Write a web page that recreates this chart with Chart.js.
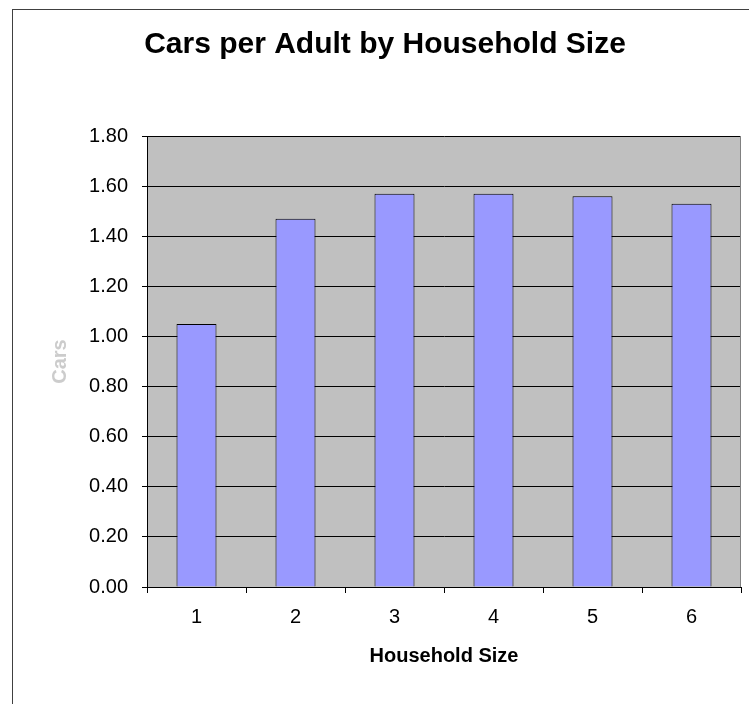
<!DOCTYPE html>
<html>
<head>
<meta charset="utf-8">
<script src="https://cdn.jsdelivr.net/npm/chart.js@4.4.1/dist/chart.umd.min.js"></script>
<style>
  html, body { margin: 0; padding: 0; background: #ffffff; }
  #wrap { width: 749px; height: 704px; position: relative; }
</style>
</head>
<body>
<div id="wrap"><canvas id="c" width="749" height="704"></canvas></div>
<script>
const chartTitle = 'Cars per Adult by Household Size';
const xAxisTitle = 'Household Size';
const yAxisTitle = 'Cars';
const categories = ['1', '2', '3', '4', '5', '6'];
const carsPerAdult = [1.05, 1.47, 1.57, 1.57, 1.56, 1.53];
const yTickLabels = ['0.00', '0.20', '0.40', '0.60', '0.80', '1.00', '1.20', '1.40', '1.60', '1.80'];

const FONT = '"Liberation Sans", Arial, Helvetica, sans-serif';

const decor = {
  id: 'decor',
  beforeDraw(chart) {
    const { ctx, chartArea: a } = chart;
    ctx.save();
    ctx.fillStyle = '#c0c0c0';
    ctx.fillRect(a.left, a.top, a.right - a.left, a.bottom - a.top);
    ctx.restore();
  },
  afterDraw(chart) {
    const { ctx, chartArea: a } = chart;
    ctx.save();
    ctx.strokeStyle = '#808080';
    ctx.lineWidth = 1;
    ctx.beginPath();
    ctx.moveTo(Math.round(a.right) - 0.5, a.top);
    ctx.lineTo(Math.round(a.right) - 0.5, a.bottom);
    ctx.stroke();
    ctx.strokeStyle = '#404040';
    ctx.strokeRect(12.5, 9.5, 900, 900);
    ctx.restore();
  }
};

new Chart(document.getElementById('c'), {
  type: 'bar',
  data: {
    labels: categories,
    datasets: [{
      data: carsPerAdult,
      backgroundColor: '#9999ff',
      borderColor: '#000000',
      borderWidth: 1,
      borderSkipped: 'start',
      barPercentage: 0.404,
      categoryPercentage: 1.0
    }]
  },
  options: {
    responsive: false,
    animation: false,
    devicePixelRatio: 1,
    layout: { padding: { left: 29, right: 8, top: 0, bottom: 0 } },
    plugins: {
      legend: { display: false },
      tooltip: { enabled: false },
      title: {
        display: true,
        text: chartTitle,
        color: '#000000',
        font: { family: FONT, size: 30, weight: 'bold', lineHeight: 1.2 },
        padding: { top: 27, bottom: 73 }
      }
    },
    scales: {
      x: {
        afterFit(scale) { scale.height = 117; },
        border: { display: true, color: '#000000', width: 1 },
        grid: { display: true, drawOnChartArea: false, drawTicks: true, tickLength: 6, color: '#000000', offset: true },
        ticks: { color: '#000000', font: { family: FONT, size: 20 }, padding: 12, maxRotation: 0 },
        title: {
          display: true,
          text: xAxisTitle,
          color: '#000000',
          font: { family: FONT, size: 20, weight: 'bold', lineHeight: 1.2 },
          padding: { top: 0, bottom: 36 }
        }
      },
      y: {
        min: 0,
        max: 1.8,
        afterFit(scale) { scale.width = 118; },
        border: { display: true, color: '#000000', width: 1 },
        grid: { display: true, drawTicks: true, tickLength: 5, color: '#000000', lineWidth: 1 },
        ticks: {
          stepSize: 0.2,
          color: '#000000',
          font: { family: FONT, size: 20 },
          padding: 14,
          callback: (v, i) => yTickLabels[i]
        },
        title: {
          display: true,
          text: yAxisTitle,
          color: '#cccccc',
          font: { family: FONT, size: 20, weight: 'bold', lineHeight: 1.2 },
          padding: { top: 19, bottom: 0 }
        }
      }
    }
  },
  plugins: [decor]
});
</script>
</body>
</html>
